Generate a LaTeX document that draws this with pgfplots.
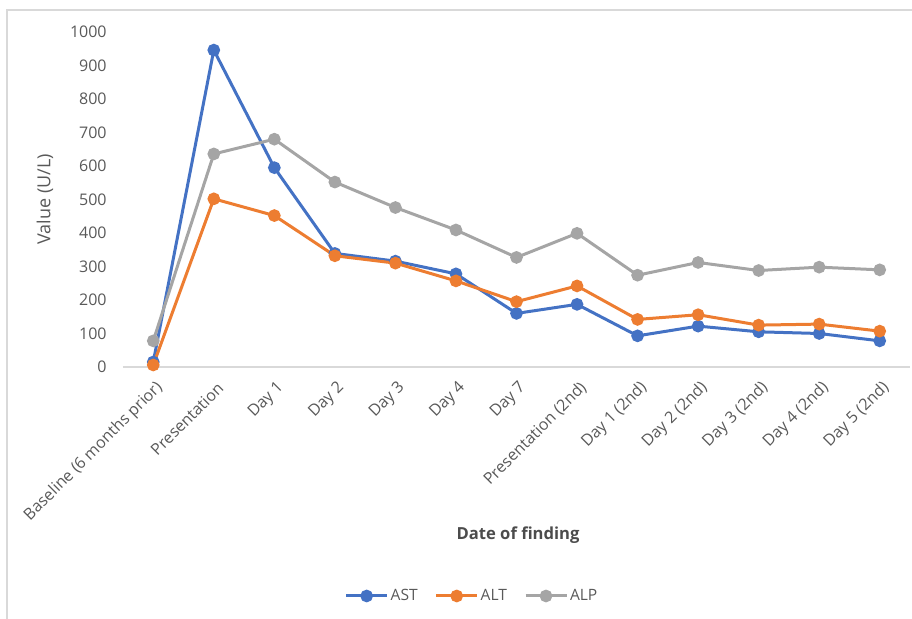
\documentclass[border=0pt]{standalone}
\usepackage{pgfplots}
\pgfplotsset{compat=1.18}
\usepackage{fontspec}
\setmainfont{Open Sans}
\definecolor{cAST}{HTML}{4472C4}
\definecolor{cALT}{HTML}{ED7D31}
\definecolor{cALP}{HTML}{A5A5A5}
\definecolor{txt}{HTML}{595959}
\definecolor{bord}{HTML}{D9D9D9}
\begin{document}
\begin{tikzpicture}
\useasboundingbox (-61.5pt,-126pt) rectangle (394.5pt,183.5pt);
\draw[bord, line width=0.6pt] (-58pt,-126pt) -- (-58pt,178.5pt) -- (394.5pt,178.5pt);
\begin{axis}[
  scale only axis,
  width=393.5pt, height=167.5pt,
  xmin=-0.5, xmax=12.5,
  ymin=0, ymax=1000,
  ytick={0,100,...,1000},
  xtick={0,...,12},
  xticklabels={Baseline (6 months prior),Presentation,Day 1,Day 2,Day 3,Day 4,Day 7,Presentation (2nd),Day 1 (2nd),Day 2 (2nd),Day 3 (2nd),Day 4 (2nd),Day 5 (2nd)},
  axis x line*=bottom, axis y line*=left,
  x axis line style={bord, line width=0.6pt, -},
  y axis line style={draw=none},
  major tick length=0pt,
  tick style={draw=none},
  ticklabel style={font=\fontsize{8}{9.6}\selectfont, text=txt},
  yticklabel style={anchor=east, inner sep=0pt, xshift=-8pt, /pgf/number format/1000 sep={}},
  xticklabel style={inner sep=0pt, xshift=3.5pt, yshift=-9pt, rotate=45, anchor=east},
  /pgf/number format/assume math mode=true,
  clip=false,
  xlabel={\textbf{Date of finding}},
  xlabel style={at={(axis description cs:0.502,-0.5015)}, anchor=center, font=\fontsize{8.3}{10}\selectfont, text=txt!85!black},
  ylabel={Value (U/L)},
  ylabel style={at={(axis description cs:-0.0991,0.5)}, anchor=center, rotate=0, font=\fontsize{9}{11}\selectfont, text=txt},
  legend style={at={(axis description cs:0.4435,-0.6836)}, anchor=center, draw=none, fill=none,
    font=\fontsize{7.8}{9}\selectfont, text=txt, legend columns=-1,
    /tikz/every even column/.append style={column sep=7.5pt},
    nodes={inner sep=1pt}},
  legend image code/.code={\draw[mark repeat=2,mark phase=2] plot coordinates {(0pt,0pt)(10.25pt,0pt)(20.5pt,0pt)};},
  every axis plot/.append style={line width=1.5pt, mark=*, mark size=2.4pt},
]
\addplot[cAST, mark options={fill=cAST, draw=cAST}] coordinates {
(0,15)(1,946)(2,595)(3,339)(4,316)(5,278)(6,160)(7,187)(8,93)(9,122)(10,105)(11,100)(12,78)};
\addlegendentry{AST}
\addplot[cALT, mark options={fill=cALT, draw=cALT}] coordinates {
(0,6)(1,502)(2,452)(3,332)(4,310)(5,257)(6,195)(7,242)(8,142)(9,156)(10,125)(11,128)(12,107)};
\addlegendentry{ALT}
\addplot[cALP, mark options={fill=cALP, draw=cALP}] coordinates {
(0,78)(1,636)(2,680)(3,552)(4,476)(5,409)(6,327)(7,399)(8,274)(9,312)(10,288)(11,298)(12,290)};
\addlegendentry{ALP}
\end{axis}
\end{tikzpicture}
\end{document}
